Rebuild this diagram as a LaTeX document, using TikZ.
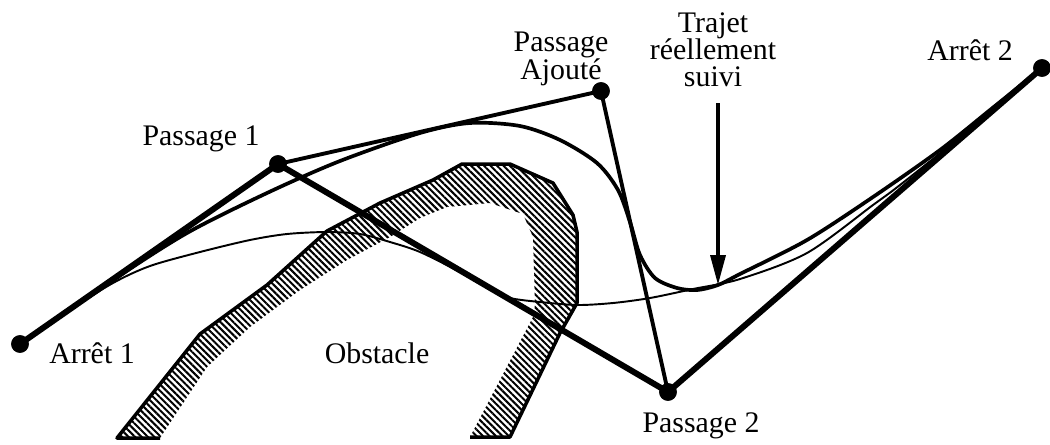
\documentclass[tikz,border=0pt]{standalone}
\usepackage{fontspec}
\setmainfont{Liberation Serif}
\usetikzlibrary{arrows.meta, patterns.meta}
\tikzset{
  halt/.style={circle, fill=black, inner sep=0pt, minimum size=10pt},
  route/.style={line width=3.4pt, line join=round},
  detour/.style={line width=2.2pt, line join=round},
  trajet/.style={line width=2.1pt},
  brut/.style={line width=1.1pt},
  obst/.style={pattern={Lines[angle=-45, distance=2.6pt, line width=1.15pt]}},
  obstedge/.style={line width=2pt, line join=round},
  lbl/.style={font=\fontsize{17}{15.5}\selectfont, inner sep=0pt, align=center},
  pointer/.style={-{Triangle[length=17pt, width=8.5pt]}, line width=2pt},
}

\begin{document}
\begin{tikzpicture}[x=0.02cm, y=-0.02cm]
  \useasboundingbox (0,0) rectangle (1050,444);

  % obstacle
  \fill[obst] (117,438) -- (200,334) -- (267,285) -- (327,231) -- (380,203) -- (433,180)
    -- (462,164) -- (510,164) -- (553,183) -- (573,215) -- (577,232) -- (577,303)
    -- (560,333) -- (510,437) -- (470,437) -- (533,317) -- (535,305) -- (533,237)
    -- (523,214) -- (490,203) -- (447,207) -- (420,218) -- (390,237) -- (347,260)
    -- (300,290) -- (250,327) -- (207,367) -- (160,438) -- cycle;
  \draw[obstedge] (160,438) -- (117,438) -- (200,334) -- (267,285) -- (327,231) -- (380,203)
    -- (433,180) -- (462,164) -- (510,164) -- (553,183) -- (573,215) -- (577,232)
    -- (577,303) -- (560,333) -- (510,437) -- (470,437);
  \node[lbl, anchor=base] (lobs) at (377,363) {Obstacle};

  % arrets et passages
  \node[halt] (a1) at (20,344) {};
  \node[halt] (p1) at (278,164) {};
  \node[halt] (pa) at (601,91) {};
  \node[halt] (p2) at (668,392) {};
  \node[halt] (a2) at (1042,68) {};

  % trajets
  \draw[brut] plot[smooth] coordinates {(a1.center) (70,310) (113,283) (150,266) (200,252)
    (250,240) (287,234) (327,232) (360,234) (390,242) (420,252) (460,272) (490,289)
    (510,298) (540,302) (577,305) (613,303) (650,298) (693,289) (740,279) (807,253)
    (873,205) (900,185) (960,137) (a2.center)};
  \draw[trajet] plot[smooth] coordinates {(a1.center) (110,282) (187,233) (267,193)
    (340,161) (420,133) (470,123) (520,126) (560,140) (597,163) (618,190) (630,222)
    (640,255) (655,278) (677,288) (697,290) (718,285) (740,274) (807,240) (873,197)
    (940,150) (990,110) (a2.center)};
  \draw[detour] (p1.center) -- (pa.center) -- (p2.center);
  \draw[route] (a1.center) -- (p1.center) -- (p2.center) -- (a2.center);
  \foreach \n in {a1,p1,pa,p2,a2}
    \node[halt] at (\n) {};

  % etiquettes
  \node[lbl, anchor=base] (la1) at (92,363) {Arrêt 1};
  \node[lbl, anchor=base] (lp1) at (201,145) {Passage 1};
  \node[lbl] (lpa) at (561,59) {Passage\\Ajouté};
  \node[lbl, anchor=base] (lp2) at (701,432) {Passage 2};
  \node[lbl, anchor=base] (la2) at (970,60) {Arrêt 2};
  \node[lbl] (ltr) at (713,50) {Trajet\\réellement\\suivi};

  \coordinate (hit) at (718,285);
  \draw[pointer, shorten <=9pt] (ltr.south -| hit) -- (hit);
\end{tikzpicture}
\end{document}
